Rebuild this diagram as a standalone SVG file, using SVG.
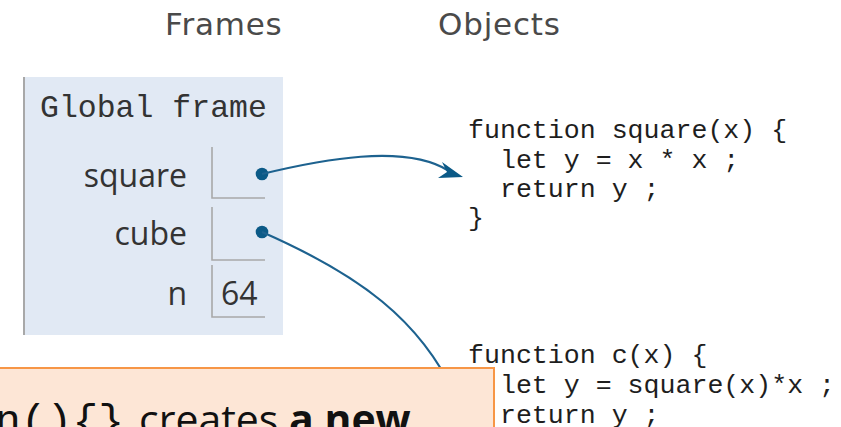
<svg xmlns="http://www.w3.org/2000/svg" width="841" height="427" viewBox="0 0 841 427">
  <style>
    .hdr { font-family: "DejaVu Sans", Verdana, sans-serif; font-size: 31px; letter-spacing: 0.8px; fill: #4a4a4a; }
    .code { font-family: "Liberation Mono", "Courier New", monospace; font-size: 26.6px; fill: #1e1e1e; white-space: pre; }
    .var { font-family: "Open Sans", "Noto Sans", sans-serif; font-size: 32px; fill: #333; text-anchor: end; }
    .val { font-family: "Open Sans", "Noto Sans", sans-serif; font-size: 32px; fill: #333; }
    .cell { fill: none; stroke: #a8a8a8; stroke-width: 1.6; }
    .edge { fill: none; stroke: #1d628f; stroke-width: 2.2; }
    .dot { fill: #0b5a87; }
    .arrowhead { fill: #0b5a87; }
  </style>

  <text class="hdr" x="165" y="35">Frames</text>
  <text class="hdr" x="438" y="35">Objects</text>

  <g id="global-frame">
    <rect x="24" y="77" width="259" height="258" fill="#e1e9f4"/>
    <line x1="24" y1="77" x2="24" y2="335" stroke="#a8a8a8" stroke-width="2"/>
    <text x="40" y="117" style="font-family: 'Liberation Mono', 'Courier New', monospace; font-size: 31.5px; fill: #333;">Global frame</text>
  </g>

  <g id="var-square">
    <text class="var" x="187" y="187">square</text>
    <polyline class="cell" points="212,147 212,198 265,198"/>
    <circle class="dot" cx="262" cy="174" r="6.3"/>
  </g>

  <g id="var-cube">
    <text class="var" x="187" y="245">cube</text>
    <polyline class="cell" points="212,207 212,260 265,260"/>
    <circle class="dot" cx="262" cy="232" r="6.3"/>
  </g>

  <g id="var-n">
    <text class="var" x="187" y="305">n</text>
    <polyline class="cell" points="212,265 212,317 265,317"/>
    <text class="val" x="221" y="305">64</text>
  </g>

  <g id="func-square">
    <text class="code" x="468" y="138">function square(x) {</text>
    <text class="code" x="468" y="167.5">  let y = x * x ;</text>
    <text class="code" x="468" y="197">  return y ;</text>
    <text class="code" x="468" y="226">}</text>
  </g>

  <g id="func-c">
    <text class="code" x="468" y="363">function c(x) {</text>
    <text class="code" x="468" y="393">  let y = square(x)*x ;</text>
    <text class="code" x="468" y="423">  return y ;</text>
  </g>

  <g id="connectors">
    <path class="edge" d="M262,174 C320,160 405,143 449,171"/>
    <polygon class="arrowhead" points="463,177 442,162 447,172 438,178"/>
    <path class="edge" d="M262,232 C360,275 420,320 455,395"/>
  </g>

  <g id="callout">
    <rect x="-5" y="368" width="499" height="80" fill="#fde6d6" stroke="#f79646" stroke-width="2"/>
    <text x="124" y="434" text-anchor="end" style="font-family: 'Liberation Mono', monospace; font-size: 43px; fill: #111;">function(){}</text>
    <text x="139" y="434" style="font-family: 'Open Sans', 'Noto Sans', sans-serif; font-size: 41px; fill: #111;">creates <tspan font-weight="bold">a new</tspan></text>
  </g>
</svg>
